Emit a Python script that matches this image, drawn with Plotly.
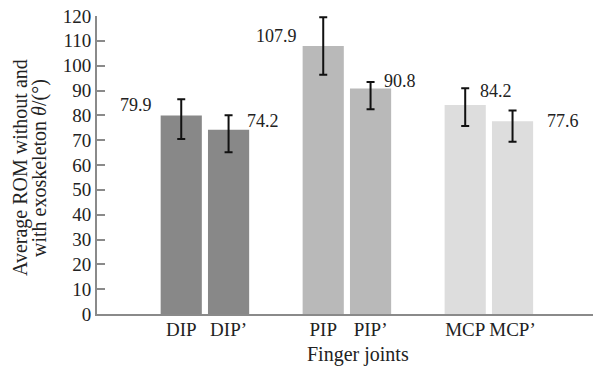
import plotly.graph_objects as go

# ---- data ----
joints = ["DIP", "DIP’", "PIP", "PIP’", "MCP", "MCP’"]
rom_mean = [79.9, 74.2, 107.9, 90.8, 84.2, 77.6]
err_plus = [6.6, 5.8, 11.6, 2.6, 6.7, 4.3]
err_minus = [9.4, 9.1, 11.6, 8.4, 8.5, 8.2]
value_labels = ["79.9", "74.2", "107.9", "90.8", "84.2", "77.6"]
y_ticks = list(range(0, 121, 10))
category_order = ["DIP", "DIP’", " ", "PIP", "PIP’", "  ", "MCP", "MCP’"]

bar_colors = ["#888888", "#888888", "#b9b9b9", "#b9b9b9", "#dddddd", "#dddddd"]
FONT = "Liberation Serif, Times New Roman, serif"

fig = go.Figure()
fig.add_trace(go.Bar(
    x=joints, y=rom_mean,
    marker=dict(color=bar_colors, line=dict(width=0)),
    error_y=dict(type="data", symmetric=False, array=err_plus, arrayminus=err_minus,
                 color="#111111", thickness=2, width=4),
    showlegend=False,
))

# value label placements (pixel shifts relative to bar top)
label_shift = [(-45, 11, "center"), (34, 9, "center"), (-47, 10, "center"),
               (29, 8, "center"), (31, 14, "center"), (50, 0, "center")]
for j, v, t, (dx, dy, xa) in zip(joints, rom_mean, value_labels, label_shift):
    fig.add_annotation(x=j, y=v, text=t, showarrow=False, xshift=dx, yshift=dy,
                       xanchor=xa, yanchor="middle",
                       font=dict(family=FONT, size=18, color="#222222"))

# y-axis title (two lines)
fig.add_annotation(xref="paper", yref="paper", x=0, y=0.5, xshift=-77, yshift=-3,
                   xanchor="center", yanchor="middle",
                   text="Average ROM without and", textangle=-90, showarrow=False,
                   font=dict(family=FONT, size=20, color="#222222"))
fig.add_annotation(xref="paper", yref="paper", x=0, y=0.5, xshift=-58, yshift=-3,
                   xanchor="center", yanchor="middle",
                   text="with exoskeleton <i>θ</i>/(°)", textangle=-90, showarrow=False,
                   font=dict(family=FONT, size=20, color="#222222"))
# x-axis title
fig.add_annotation(xref="paper", yref="paper", x=0.5, y=0, xshift=13, yshift=-40,
                   text="Finger joints", showarrow=False, xanchor="center", yanchor="middle",
                   font=dict(family=FONT, size=20, color="#222222"))

fig.update_layout(
    width=593, height=367,
    margin=dict(l=97, r=0, t=16, b=53),
    paper_bgcolor="white", plot_bgcolor="white",
    bargap=0.13,
    font=dict(family=FONT, size=19, color="#222222"),
    xaxis=dict(type="category", categoryorder="array", categoryarray=category_order,
               tickvals=joints, ticktext=joints,
               range=[-1.78, 8.70], showline=True, linecolor="#8a8a8a", linewidth=2,
               ticks="", showgrid=False, zeroline=False, ticklabelstandoff=-3,
               tickfont=dict(family=FONT, size=19)),
    yaxis=dict(range=[0, 120], tickvals=y_ticks, showline=True, linecolor="#8a8a8a",
               linewidth=2, ticks="inside", ticklen=8, tickcolor="#8a8a8a", tickwidth=1.5,
               showgrid=False, zeroline=False,
               tickfont=dict(family=FONT, size=19)),
)

fig.write_html("out.html", config={"displayModeBar": False},
               post_script="document.body.style.margin='0';")
